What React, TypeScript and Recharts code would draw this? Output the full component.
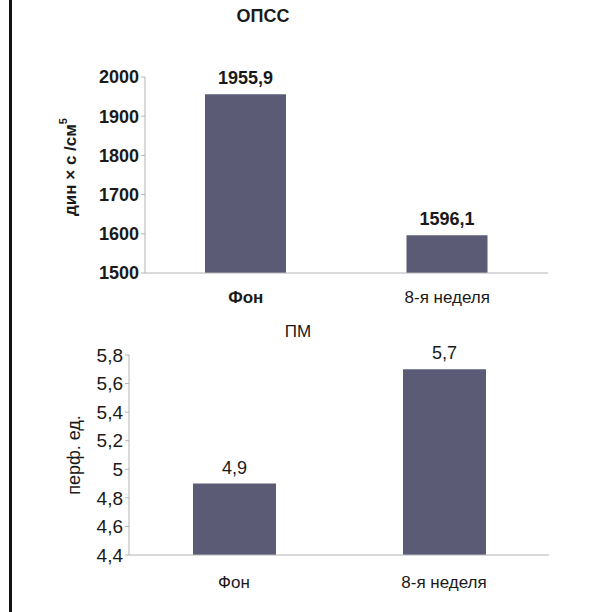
import React from "react";
import { BarChart, Bar, XAxis, YAxis, LabelList } from "recharts";

const categories = ["Фон", "8-я неделя"];
const opssValues = [1955.9, 1596.1];
const pmValues = [4.9, 5.7];
const opssTicks = [1500, 1600, 1700, 1800, 1900, 2000];
const pmTicks = [4.4, 4.6, 4.8, 5, 5.2, 5.4, 5.6, 5.8];

const opssData = categories.map((name, i) => ({ name, value: opssValues[i] }));
const pmData = categories.map((name, i) => ({ name, value: pmValues[i] }));

const FONT = "'Liberation Sans', Arial, sans-serif";
const BAR = "#5b5b76";
const AXIS = "#b4b4b4";
const INK = "#1a1a1a";

const comma = (v: number) => String(Number(v.toFixed(1))).replace(".", ",");

function YTitle(props: any) {
  const { viewBox, cx, dyShift, bold, size, children } = props;
  const cy = viewBox.y + viewBox.height / 2 + (dyShift || 0);
  return (
    <text
      x={cx}
      y={cy}
      transform={`rotate(-90 ${cx} ${cy})`}
      textAnchor="middle"
      dominantBaseline="central"
      fontFamily={FONT}
      fontSize={size || 16}
      fontWeight={bold ? "bold" : "normal"}
      fill={INK}
    >
      {children}
    </text>
  );
}

function makeXTick(boldFirst: boolean, shift: number) {
  return (props: any) => {
    const { x, y, payload } = props;
    const bold = boldFirst && payload.value === "Фон";
    return (
      <text
        x={x}
        y={y + shift}
        textAnchor="middle"
        fontFamily={FONT}
        fontSize={17}
        fontWeight={bold ? "bold" : "normal"}
        fill={INK}
      >
        {payload.value}
      </text>
    );
  };
}

export default function App() {
  return (
    <div
      style={{
        position: "absolute",
        top: 0,
        left: 0,
        width: 597,
        height: 612,
        background: "#fff",
        overflow: "hidden",
        fontFamily: FONT,
      }}
    >
      <div style={{ position: "absolute", left: 9, top: 0, width: 3, height: 612, background: "#151018" }} />

      <div style={{ position: "absolute", left: 213, top: 6, width: 100, textAlign: "center", fontSize: 18, fontWeight: "bold", color: INK }}>
        ОПСС
      </div>
      <div style={{ position: "absolute", left: 248, top: 322, width: 100, textAlign: "center", fontSize: 17, color: INK }}>
        ПМ
      </div>

      <div style={{ position: "absolute", left: 0, top: 0 }}>
        <BarChart width={597} height={320} data={opssData} margin={{ top: 77, right: 49, bottom: 7, left: 0 }}>
          <XAxis
            dataKey="name"
            height={40}
            stroke={AXIS}
            tickLine={false}
            tick={makeXTick(true, 22)}
          />
          <YAxis
            width={145}
            domain={[1500, 2000]}
            ticks={opssTicks}
            stroke={AXIS}
            tickSize={4}
            tick={{ fontFamily: FONT, fontSize: 18, fontWeight: "bold", fill: INK }}
            label={{
              content: (p: any) => (
                <YTitle {...p} cx={70} dyShift={-8} size={17} bold>
                  дин × с /см<tspan fontSize={11} dy={-7}>5</tspan>
                </YTitle>
              ),
            }}
          />
          <Bar dataKey="value" fill={BAR} barSize={81} isAnimationActive={false}>
            <LabelList
              dataKey="value"
              position="top"
              offset={10}
              formatter={(v: any) => comma(Number(v))}
              style={{ fontFamily: FONT, fontSize: 18, fontWeight: "bold", fill: INK }}
            />
          </Bar>
        </BarChart>
      </div>

      <div style={{ position: "absolute", left: 0, top: 310 }}>
        <BarChart width={597} height={302} data={pmData} margin={{ top: 45, right: 48, bottom: 12, left: 0 }}>
          <XAxis
            dataKey="name"
            height={45}
            stroke={AXIS}
            tickLine={false}
            tick={makeXTick(false, 25)}
          />
          <YAxis
            width={129}
            domain={[4.4, 5.8]}
            ticks={pmTicks}
            stroke={AXIS}
            tickSize={4}
            tickFormatter={(v: number) => comma(v)}
            tick={{ fontFamily: FONT, fontSize: 19, fill: INK }}
            label={{
              content: (p: any) => (
                <YTitle {...p} cx={74} size={18}>
                  перф. ед.
                </YTitle>
              ),
            }}
          />
          <Bar dataKey="value" fill={BAR} barSize={83} isAnimationActive={false}>
            <LabelList
              dataKey="value"
              position="top"
              offset={10}
              formatter={(v: any) => comma(Number(v))}
              style={{ fontFamily: FONT, fontSize: 18, fill: INK }}
            />
          </Bar>
        </BarChart>
      </div>
    </div>
  );
}
